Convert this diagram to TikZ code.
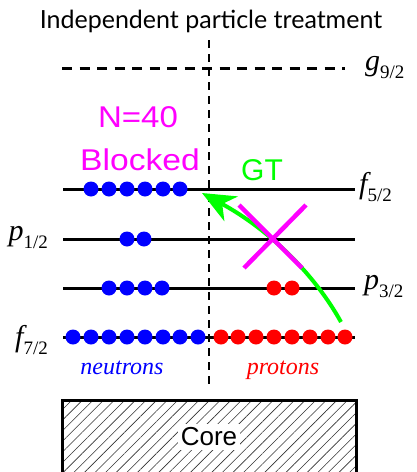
\documentclass[tikz,border=0pt]{standalone}
\usepackage{fontspec}
\setmainfont{Liberation Serif}
\newfontfamily\titlefont{Lato}
\newfontfamily\helv{Liberation Sans}
\usetikzlibrary{arrows.meta,patterns.meta}
\definecolor{mag}{RGB}{255,0,255}
\definecolor{grn}{RGB}{0,255,0}
\definecolor{blu}{RGB}{0,0,255}
\definecolor{rd}{RGB}{255,0,0}
\newcommand\lvl[2]{{\fontsize{30}{30}\selectfont\itshape #1}\raisebox{-8pt}{\fontsize{19}{19}\selectfont #2}}
\begin{document}
\begin{tikzpicture}[x=1pt,y=-1pt,
  level/.style={line width=3pt},
  dashlevel/.style={line width=3pt,dash pattern=on 10pt off 7.5pt},
  divider/.style={line width=1.3pt,dash pattern=on 8pt off 6pt},
  ndot/.style={circle,fill=blu,inner sep=0pt,minimum size=15pt},
  pdot/.style={circle,fill=rd,inner sep=0pt,minimum size=15pt},
  lab/.style={inner sep=0pt},
  magtext/.style={inner sep=0pt,text=mag,font=\helv\fontsize{30}{30}\selectfont},
  gtarrow/.style={draw=grn,line width=4pt,-{Stealth[length=33pt,width=28pt,inset=10pt]}},
  cross/.style={draw=mag,line width=4.5pt},
  nuc/.style={inner sep=0pt,font=\fontsize{24}{24}\selectfont\itshape}]
\clip (0,0) rectangle (417,472);
\fill[white] (0,0) rectangle (417,472);

% title
\node[inner sep=0pt,anchor=base,font=\titlefont\fontsize{25}{25}\selectfont] (title) at (211,28) {Independent particle treatment};

% divider
\coordinate (vtop) at (209,40);
\coordinate (vbot) at (209,385);
\draw[divider] (vtop) -- (vbot);

% levels
\coordinate (g92L) at (62,68);  \coordinate (g92R) at (345,68);
\coordinate (f52L) at (63,189); \coordinate (f52R) at (355,189);
\coordinate (p12L) at (63,239); \coordinate (p12R) at (355,239);
\coordinate (p32L) at (63,288); \coordinate (p32R) at (355,288);
\coordinate (f72L) at (63,337); \coordinate (f72R) at (355,337);
\draw[dashlevel] (g92L) -- (g92R);
\draw[level] (f52L) -- (f52R);
\draw[level] (p12L) -- (p12R);
\draw[level] (p32L) -- (p32R);
\draw[level] (f72L) -- (f72R);

% level labels
\node[lab,anchor=base west] (g92lab) at (365,70) {\lvl{g}{9/2}};
\node[lab,anchor=base west] (f52lab) at (359,193) {\lvl{f}{5/2}};
\node[lab,anchor=base west] (p32lab) at (364,289) {\lvl{p}{3/2}};
\node[lab,anchor=base east] (p12lab) at (48,240) {\lvl{p}{1/2}};
\node[lab,anchor=base east] (f72lab) at (48,346) {\lvl{f}{7/2}};

% neutrons
\foreach \x [count=\i] in {91,109,127,145,163,180} \node[ndot] (nf5\i) at (\x,189) {};
\foreach \x [count=\i] in {127,144} \node[ndot] (np1\i) at (\x,239) {};
\foreach \x [count=\i] in {109,127,145,162} \node[ndot] (np3\i) at (\x,288) {};
\foreach \x [count=\i] in {73,91,109,127,145,163,180,198} \node[ndot] (nf7\i) at (\x,337) {};
% protons
\foreach \x [count=\i] in {274,292} \node[pdot] (pp3\i) at (\x,288) {};
\foreach \x [count=\i] in {221,238,256,274,292,310,328,345} \node[pdot] (pf7\i) at (\x,337) {};

\node[nuc,text=blu,anchor=base] (neut) at (122,374) {neutrons};
\node[nuc,text=rd,anchor=base] (prot) at (283,374) {protons};

% N=40 blocked
\node[magtext,anchor=base] (n40) at (138,127) {\scalebox{1.1}[1]{N=40}};
\node[magtext,anchor=base] (blocked) at (140,170) {\scalebox{1.12}[1]{Blocked}};
\node[magtext,text=grn,anchor=base] (gt) at (262,180) {GT};

% GT arrow
\coordinate (gtstart) at (341,322);
\coordinate (gtend) at (202,193);
\draw[gtarrow] (gtstart) .. controls (315,275) and (270,230) .. (gtend);

% cross
\coordinate (x1a) at (239,205); \coordinate (x1b) at (302,268);
\coordinate (x2a) at (306,205); \coordinate (x2b) at (244,268);
\draw[cross] (x1a) -- (x1b);
\draw[cross] (x2a) -- (x2b);

% core
\coordinate (coreA) at (62,400);
\coordinate (coreB) at (356,490);
\fill[pattern={Lines[angle=45,distance=7.5pt,line width=0.6pt]},pattern color=black!80] (coreA) rectangle (coreB);
\draw[line width=3pt] (coreA) rectangle (coreB);
\node[fill=white,inner xsep=3pt,inner ysep=4pt,font=\helv\fontsize{26}{26}\selectfont] (core) at (209,437) {Core};
\end{tikzpicture}
\end{document}
